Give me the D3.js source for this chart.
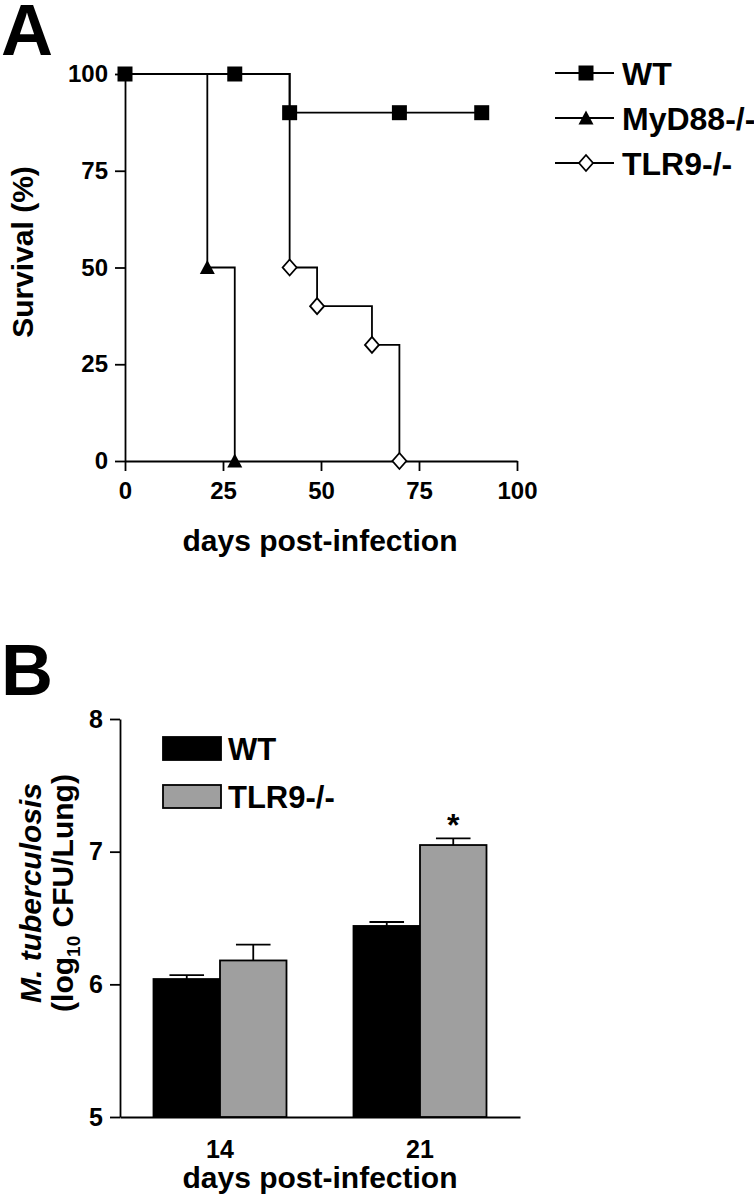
<!DOCTYPE html>
<html>
<head>
<meta charset="utf-8">
<script src="https://cdn.jsdelivr.net/npm/d3@7"></script>
<style>
  html, body { margin: 0; padding: 0; background: #fff; }
  svg { display: block; }
  text { font-family: "Liberation Sans", Arial, Helvetica, sans-serif; font-weight: bold; fill: #000; }
</style>
</head>
<body>
<svg id="chart" width="754" height="1200"></svg>
<script>
// ---------- Panel A data (survival, %) ----------
const survivalSeries = ["WT", "MyD88-/-", "TLR9-/-"];
const wtDays = [0, 28, 42, 70, 91];
const wtSurvival = [100, 100, 90, 90, 90];
const myd88Days = [0, 21, 28];
const myd88Survival = [100, 50, 0];
const tlr9Days = [0, 42, 49, 63, 70];
const tlr9Survival = [100, 50, 40, 30, 0];
const survivalXTicks = [0, 25, 50, 75, 100];
const survivalYTicks = [0, 25, 50, 75, 100];

// ---------- Panel B data (log10 CFU/Lung) ----------
const cfuDays = ["14", "21"];
const cfuGroups = ["WT", "TLR9-/-"];
const cfuWT = [6.04, 6.44];
const cfuWTErr = [0.03, 0.03];
const cfuTLR9 = [6.18, 7.05];
const cfuTLR9Err = [0.12, 0.05];
const cfuSignificant = [false, true];
const cfuYTicks = [5, 6, 7, 8];

const svg = d3.select("#chart");
const SW = 1.8;

// Panel letters
svg.append("text").attr("x", 1).attr("y", 55).attr("font-size", 72).text("A");
svg.append("text").attr("x", 1).attr("y", 695).attr("font-size", 72).text("B");

// ================= Panel A =================
const xA = d3.scaleLinear().domain([0, 100]).range([125, 517]);
const yA = d3.scaleLinear().domain([0, 100]).range([461, 74]);
const gA = svg.append("g");

const axA_y = gA.append("g").attr("transform", `translate(${xA(0)},0)`)
  .call(d3.axisLeft(yA).tickValues(survivalYTicks).tickSize(10).tickSizeOuter(0).tickPadding(7));
const axA_x = gA.append("g").attr("transform", `translate(0,${yA(0)})`)
  .call(d3.axisBottom(xA).tickValues(survivalXTicks).tickSize(10).tickSizeOuter(0).tickPadding(11));
[axA_y, axA_x].forEach(ax => {
  ax.selectAll("path, line").attr("stroke", "#000").attr("stroke-width", SW);
  ax.selectAll("text").attr("font-size", 24).attr("font-family", null).attr("fill", "#000");
});

gA.append("text").attr("text-anchor", "middle")
  .attr("transform", "translate(33,252) rotate(-90)")
  .attr("font-size", 30).text("Survival (%)");
gA.append("text").attr("text-anchor", "middle").attr("x", 320).attr("y", 551)
  .attr("font-size", 30).text("days post-infection");

const seriesA = [
  { name: survivalSeries[0], days: wtDays, surv: wtSurvival, marker: "square", skipFirst: false },
  { name: survivalSeries[1], days: myd88Days, surv: myd88Survival, marker: "triangle", skipFirst: true },
  { name: survivalSeries[2], days: tlr9Days, surv: tlr9Survival, marker: "diamond", skipFirst: true }
];
const stepLine = d3.line().x(d => xA(d[0])).y(d => yA(d[1])).curve(d3.curveStepAfter);

const markerPath = {
  square: "M-7.5,-7.5H7.5V7.5H-7.5Z",
  triangle: "M0,-7.5L7.5,6.5L-7.5,6.5Z",
  diamond: "M0,-8L7,0L0,8L-7,0Z"
};
function drawMarker(g, type, x, y) {
  const p = g.append("path").attr("d", markerPath[type]).attr("transform", `translate(${x},${y})`);
  if (type === "diamond") p.attr("fill", "#fff").attr("stroke", "#000").attr("stroke-width", SW);
  else p.attr("fill", "#000");
  return p;
}

[...seriesA].reverse().forEach(s => {
  const pts = s.days.map((d, i) => [d, s.surv[i]]);
  gA.append("path").attr("d", stepLine(pts)).attr("fill", "none")
    .attr("stroke", "#000").attr("stroke-width", SW);
});
[...seriesA].reverse().forEach(s => {
  s.days.forEach((d, i) => {
    if (s.skipFirst && i === 0) return;
    drawMarker(gA, s.marker, xA(d), yA(s.surv[i]));
  });
});

// Legend A
const legA = svg.append("g");
seriesA.forEach((s, i) => {
  const y = 73 + i * 45;
  legA.append("line").attr("x1", 555).attr("x2", 614).attr("y1", y).attr("y2", y)
    .attr("stroke", "#000").attr("stroke-width", SW);
  drawMarker(legA, s.marker, 586, y);
  legA.append("text").attr("x", 622).attr("y", y + 11.5).attr("font-size", 32).text(s.name);
});

// ================= Panel B =================
const yB = d3.scaleLinear().domain([5, 8]).range([1117, 719]);
const xB = d3.scaleBand().domain(cfuDays).range([120, 520]).paddingInner(0.335).paddingOuter(0.1675);
const xSub = d3.scaleBand().domain(cfuGroups).range([0, xB.bandwidth()]).padding(0);
const gB = svg.append("g");

const axB_y = gB.append("g").attr("transform", `translate(120,0)`)
  .call(d3.axisLeft(yB).tickValues(cfuYTicks).tickFormat(d3.format("d")).tickSize(10).tickSizeOuter(0).tickPadding(7));
const axB_x = gB.append("g").attr("transform", `translate(0,1117)`)
  .call(d3.axisBottom(xB).tickSize(0).tickSizeOuter(0).tickPadding(23));
[axB_y, axB_x].forEach(ax => {
  ax.selectAll("path, line").attr("stroke", "#000").attr("stroke-width", SW);
  ax.selectAll("text").attr("font-size", 25).attr("font-family", null).attr("fill", "#000");
});

const barColor = { "WT": "#000", "TLR9-/-": "#9f9f9f" };
const barData = [];
cfuDays.forEach((day, i) => {
  barData.push({ day, group: "WT", v: cfuWT[i], e: cfuWTErr[i], sig: false });
  barData.push({ day, group: "TLR9-/-", v: cfuTLR9[i], e: cfuTLR9Err[i], sig: cfuSignificant[i] });
});

barData.forEach(d => {
  const x0 = xB(d.day) + xSub(d.group);
  const w = xSub.bandwidth();
  const cx = x0 + w / 2;
  gB.append("line").attr("x1", cx).attr("x2", cx).attr("y1", yB(d.v)).attr("y2", yB(d.v + d.e))
    .attr("stroke", "#000").attr("stroke-width", SW);
  gB.append("line").attr("x1", cx - w * 0.26).attr("x2", cx + w * 0.26)
    .attr("y1", yB(d.v + d.e)).attr("y2", yB(d.v + d.e))
    .attr("stroke", "#000").attr("stroke-width", SW);
  gB.append("rect").attr("x", x0).attr("y", yB(d.v)).attr("width", w).attr("height", yB(5) - yB(d.v))
    .attr("fill", barColor[d.group]).attr("stroke", "#000").attr("stroke-width", SW);
  if (d.sig) {
    gB.append("text").attr("text-anchor", "middle").attr("x", cx).attr("y", yB(d.v + d.e) - 2)
      .attr("font-size", 32).text("*");
  }
});

gB.append("text").attr("text-anchor", "middle").attr("x", 320).attr("y", 1188)
  .attr("font-size", 30).text("days post-infection");

// Y label B (two lines)
gB.append("text").attr("text-anchor", "middle")
  .attr("transform", "translate(41,893) rotate(-90)")
  .attr("font-size", 30).attr("font-style", "italic").text("M. tuberculosis");
const yl2 = gB.append("text").attr("text-anchor", "middle")
  .attr("transform", "translate(73,893) rotate(-90)")
  .attr("font-size", 30);
yl2.append("tspan").text("(log");
yl2.append("tspan").attr("font-size", 19).attr("dy", 7).text("10");
yl2.append("tspan").attr("dy", -7).text(" CFU/Lung)");

// Legend B
const legB = svg.append("g");
cfuGroups.forEach((g, i) => {
  const y = 737 + i * 48;
  legB.append("rect").attr("x", 163).attr("y", y).attr("width", 58).attr("height", 23)
    .attr("fill", barColor[g]).attr("stroke", "#000").attr("stroke-width", SW);
  legB.append("text").attr("x", 228).attr("y", y + 23).attr("font-size", 31).text(g);
});
</script>
</body>
</html>
